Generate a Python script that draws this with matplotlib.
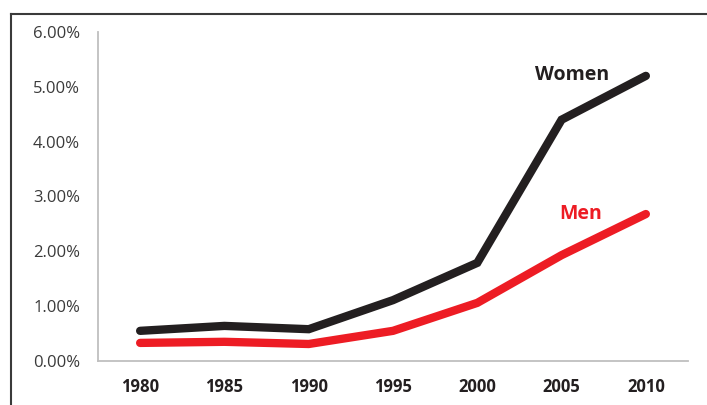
import matplotlib
matplotlib.use("Agg")
import matplotlib.pyplot as plt
from matplotlib.lines import Line2D
from matplotlib.ticker import FuncFormatter

years = ["1980", "1985", "1990", "1995", "2000", "2005", "2010"]
women = [0.55, 0.64, 0.58, 1.11, 1.79, 4.40, 5.20]
men = [0.33, 0.35, 0.31, 0.55, 1.06, 1.93, 2.68]
yticks = [0, 1, 2, 3, 4, 5, 6]

plt.rcParams['font.family'] = ['Open Sans', 'DejaVu Sans']

W, H = 707, 405
fig = plt.figure(figsize=(W / 100, H / 100), dpi=100)
ax = fig.add_axes([98 / W, 1 - 361 / H, (688 - 98) / W, (361 - 32) / H])

x = list(range(len(years)))
ax.plot(x, women, color="#231f20", lw=6.0, solid_capstyle="round", solid_joinstyle="miter")
ax.plot(x, men, color="#ed1c24", lw=6.0, solid_capstyle="round", solid_joinstyle="miter")

ax.set_xlim(-0.5, len(years) - 0.5)
ax.set_ylim(0, 6)
ax.set_yticks(yticks)
ax.yaxis.set_major_formatter(FuncFormatter(lambda v, p: f"{v:.2f}%"))
ax.set_xticks(x)
ax.set_xticklabels(years, fontweight="bold")

for s in ["top", "right"]:
    ax.spines[s].set_visible(False)
for s in ["left", "bottom"]:
    ax.spines[s].set_color("#bfbfbf")
    ax.spines[s].set_linewidth(1.3)
ax.tick_params(axis="both", length=0, labelsize=12)
ax.tick_params(axis="y", pad=13, labelcolor="#3a3a3a")
ax.tick_params(axis="x", pad=12, labelcolor="#231f20")

ax.text(5.12, 5.22, "Women", color="#231f20", fontsize=14, fontweight="bold", ha="center", va="center")
ax.text(5.23, 2.68, "Men", color="#ed1c24", fontsize=14, fontweight="bold", ha="center", va="center")

# outer frame lines
fig.add_artist(Line2D([11 / W, 706 / W], [1 - 14 / H, 1 - 14 / H], transform=fig.transFigure, color="#3a3a3a", lw=1.5))
fig.add_artist(Line2D([11 / W, 11 / W], [1 - 14 / H, 0], transform=fig.transFigure, color="#3a3a3a", lw=1.5))

fig.savefig("out.png", dpi=100)
